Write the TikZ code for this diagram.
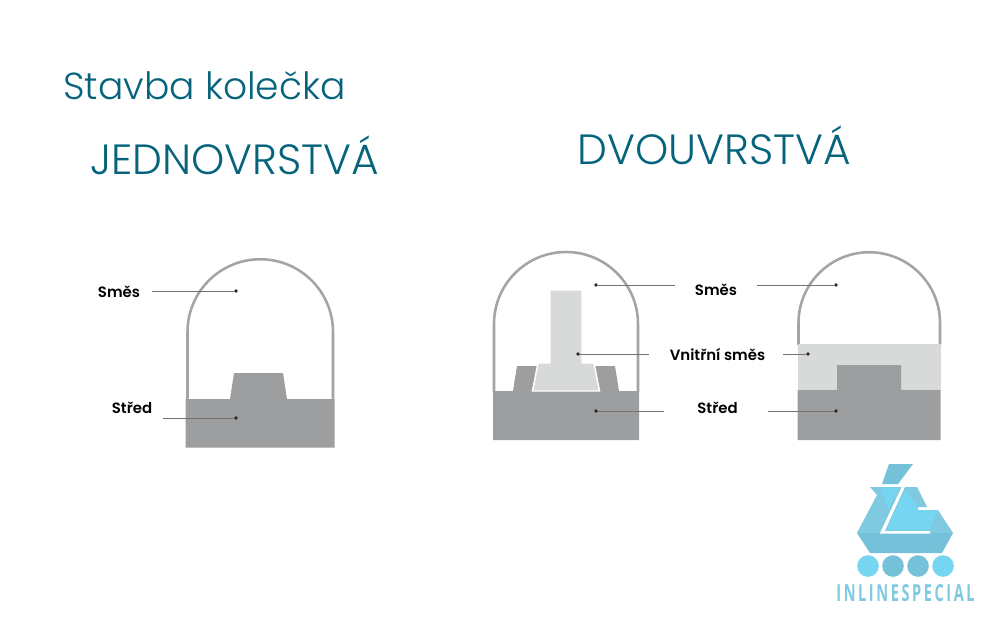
\documentclass[tikz,border=0pt]{standalone}
\usepackage{fontspec}
\setmainfont{Poppins}
\newfontfamily\titlefont[UprightFont=* Light]{Poppins}
\newfontfamily\labelfont[UprightFont=* SemiBold]{Poppins}
\newfontfamily\brandfont[FakeStretch=0.62,LetterSpace=11]{Open Sans}
\definecolor{heading}{HTML}{05647C}
\definecolor{core}{HTML}{9D9E9F}
\definecolor{shell}{HTML}{A3A4A5}
\definecolor{inner}{HTML}{D8D9D9}
\definecolor{logoA}{HTML}{7FC9E1}
\definecolor{logoB}{HTML}{76D5F1}
\definecolor{logoC}{HTML}{74C1D9}
\tikzset{
  heading/.style={text=heading,inner sep=0pt,anchor=west,font=\titlefont\fontsize{28.2}{30}\selectfont},
  bigheading/.style={heading,font=\titlefont\fontsize{31.7}{34}\selectfont},
  part/.style={text=black,inner sep=0pt,font=\labelfont\fontsize{11.2}{13}\selectfont},
  leader/.style={draw=black!55,line width=0.55pt},
  tipdot/.style={circle,fill=black!85,inner sep=0pt,minimum size=2.8pt},
  dome/.style={draw=shell,line width=1.9pt},
  corefill/.style={fill=core},
  innerfill/.style={fill=inner},
}
\begin{document}
\begin{tikzpicture}[x=0.75pt,y=-0.75pt]
\useasboundingbox (0,0) rectangle (1000,628);
\fill[white] (0,0) rectangle (1000,628);
% headings
\node[heading] (title) at (63,86) {Stavba kolečka};
\node[bigheading] (single) at (90,155) {JEDNOVRSTVÁ};
\node[bigheading] (double) at (577.5,145) {DVOUVRSTVÁ};
% single-layer wheel
\draw[dome] (187.5,400) -- (187.5,332) arc[start angle=180,end angle=360,x radius=72.75,y radius=72.75] -- (333,400);
\fill[corefill] (186,399) -- (230,399) -- (234,373) -- (283,373) -- (287,399) -- (334.5,399) -- (334.5,447.5) -- (185.5,447.5) -- (185.5,399) -- cycle;
% double-layer wheel, inner insert
\draw[dome] (494,392) -- (494,324) arc[start angle=180,end angle=360,x radius=72,y radius=72] -- (638,392);
\fill[corefill] (493,391) -- (513,391) -- (517,366) -- (615,366) -- (619,391) -- (639,391) -- (639,440) -- (493,440) -- cycle;
\path[innerfill,draw=white,line width=1.1pt] (532.5,391) -- (538,363) -- (550,363) -- (550,290) -- (582,290) -- (582,363) -- (594,363) -- (599.5,391) -- cycle;
% double-layer wheel, outer layer
\draw[dome] (798.5,345) -- (798.5,323) arc[start angle=180,end angle=360,x radius=70.75,y radius=70.75] -- (940,345);
\fill[innerfill] (797.5,344) rectangle (940.5,390);
\fill[corefill] (797.5,390) -- (837,390) -- (837,365) -- (901,365) -- (901,390) -- (940.5,390) -- (940.5,440) -- (797.5,440) -- cycle;
% labels and leaders
\node[part] (sA) at (119,292) {Směs};
\node[part] (cA) at (132,408) {Střed};
\node[part] (sB) at (716,289.5) {Směs};
\node[part] (iB) at (717.5,354.5) {Vnitřní směs};
\node[part] (cB) at (717.5,408) {Střed};
\node[tipdot] (dsA) at (236,291) {};
\node[tipdot] (dcA) at (236,418) {};
\node[tipdot] (dsB) at (596,285) {};
\node[tipdot] (diB) at (578,354) {};
\node[tipdot] (dcB) at (596,411) {};
\node[tipdot] (dsC) at (836,285) {};
\node[tipdot] (diC) at (808,354) {};
\node[tipdot] (dcC) at (836,411) {};
\coordinate (lsA) at (152,291);
\coordinate (lcA) at (163,418);
\coordinate (lsB) at (675,285);
\coordinate (liB) at (649,354);
\coordinate (lcB) at (664,411);
\coordinate (lsC) at (757,285);
\coordinate (liC) at (783,354);
\coordinate (lcC) at (768,411);
\draw[leader] (lsA) -- (dsA);
\draw[leader] (lcA) -- (dcA);
\draw[leader] (lsB) -- (dsB);
\draw[leader] (liB) -- (diB);
\draw[leader] (lcB) -- (dcB);
\draw[leader] (lsC) -- (dsC);
\draw[leader] (liC) -- (diC);
\draw[leader] (lcC) -- (dcC);
% logo
\fill[logoC] (889,464) -- (913,464) -- (898,484) -- (882,484) -- cycle;
\fill[logoA] (870,487) -- (902,487) -- (880,533) -- (857,533) -- (877,495) -- cycle;
\fill[logoB] (880,487.5) -- (899,487.5) -- (888.5,510) -- cycle;
\fill[logoA] (905,487) -- (917,487) -- (927,507) -- (918,507) -- (918,510) -- (938,510) -- (953,533) -- (884,533) -- cycle;
\fill[logoB] (905,490) -- (918,507) -- (918,510) -- (938,510) -- (930,530) -- (886,530) -- cycle;
\fill[logoC] (857,533) -- (953,533) -- (942,553) -- (870,553) -- cycle;
\draw[white,line width=1.9pt,line join=miter] (903.5,486) -- (882,532.3) -- (930,532.3);
\fill[logoB] (868,566) circle (10.8);
\fill[logoC] (893,566) circle (10.8);
\fill[logoC] (918,566) circle (10.8);
\fill[logoB] (943,566) circle (10.8);
\node[inner sep=0pt,text=logoA,font=\brandfont\bfseries\fontsize{17.6}{20}\selectfont] (brand) at (905.5,593.5) {INLINESPECIAL};
\end{tikzpicture}
\end{document}
